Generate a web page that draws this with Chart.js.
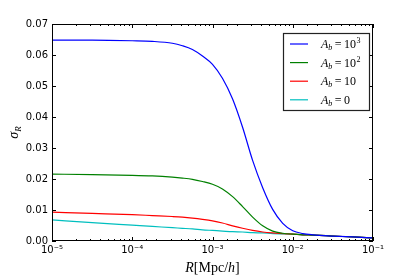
<!DOCTYPE html>
<html><head><meta charset="utf-8">
<script src="https://cdn.jsdelivr.net/npm/chart.js@4/dist/chart.umd.min.js"></script>
<style>html,body{margin:0;padding:0;background:#fff;}#wrap{width:415px;height:277px;}</style>
</head><body><div id="wrap"><canvas id="c" width="415" height="277"></canvas></div>
<script>
// R [Mpc/h] sample points
const radii = [1e-5, 3.16e-5, 1e-4, 1.78e-4, 3.16e-4, 4.22e-4, 5.62e-4, 7.5e-4, 1e-3, 1.33e-3, 1.78e-3, 2.37e-3, 3.16e-3, 4.22e-3, 5.62e-3, 7.5e-3, 1e-2, 1.33e-2, 1.78e-2, 3.16e-2, 5.62e-2, 1e-1];
const sigmaAb1000 = [0.0648, 0.0648, 0.0646, 0.0644, 0.0638, 0.0630, 0.0618, 0.0597, 0.0570, 0.0525, 0.0458, 0.0367, 0.0260, 0.0172, 0.0102, 0.0057, 0.0033, 0.0024, 0.0020, 0.0016, 0.0013, 0.0010];
const sigmaAb100  = [0.0216, 0.0214, 0.0212, 0.0210, 0.0206, 0.0203, 0.0199, 0.0192, 0.0183, 0.0168, 0.0143, 0.0111, 0.0077, 0.0049, 0.0032, 0.0025, 0.0022, 0.0020, 0.0019, 0.0016, 0.0013, 0.0010];
const sigmaAb10   = [0.0093, 0.0089, 0.0085, 0.0082, 0.0079, 0.0077, 0.0074, 0.0070, 0.0065, 0.0058, 0.0049, 0.0041, 0.0034, 0.0029, 0.0026, 0.0024, 0.0022, 0.0020, 0.0019, 0.0016, 0.0013, 0.0010];
const sigmaAb0    = [0.0068, 0.0059, 0.0051, 0.0047, 0.0043, 0.0041, 0.0039, 0.0036, 0.0034, 0.0032, 0.0030, 0.0029, 0.0027, 0.0026, 0.0024, 0.0023, 0.0022, 0.0020, 0.0019, 0.0016, 0.0013, 0.0010];
const legendBase = ['10', '10', '10', '0'];
const legendExp = ['3', '2', '', ''];
const seriesColors = ['#0000ff', '#008000', '#ff0000', '#00bfbf'];
const yTickValues = [0, 0.01, 0.02, 0.03, 0.04, 0.05, 0.06, 0.07];

const SUP = {'-':'\u207B','0':'\u2070','1':'\u00B9','2':'\u00B2','3':'\u00B3','4':'\u2074','5':'\u2075','6':'\u2076','7':'\u2077','8':'\u2078','9':'\u2079'};
function isDecade(v){ const l = Math.log10(v); return Math.abs(l - Math.round(l)) < 1e-6; }

function toPts(arr){ return radii.map((r,i)=>({x:r, y:arr[i]})); }
const allSeries = [sigmaAb1000, sigmaAb100, sigmaAb10, sigmaAb0];

const framePlugin = {
  id: 'frame',
  afterDraw(chart){
    const {ctx, chartArea:a, scales:{x, y}} = chart;
    ctx.save();
    ctx.strokeStyle = '#000'; ctx.lineWidth = 1;
    ctx.beginPath();
    x.ticks.forEach(t=>{
      const px = Math.round(x.getPixelForValue(t.value)) + 0.5;
      const L = isDecade(t.value) ? 4 : 2;
      ctx.moveTo(px, a.bottom); ctx.lineTo(px, a.bottom - L);
      ctx.moveTo(px, a.top); ctx.lineTo(px, a.top + L);
    });
    y.ticks.forEach(t=>{
      const py = Math.round(y.getPixelForValue(t.value)) + 0.5;
      ctx.moveTo(a.left, py); ctx.lineTo(a.left + 4, py);
      ctx.moveTo(a.right, py); ctx.lineTo(a.right - 4, py);
    });
    ctx.stroke();
    ctx.strokeRect(a.left + 0.5, a.top + 0.5, a.right - a.left - 1, a.bottom - a.top - 1);

    // legend
    const lx = a.right - 90, ly = a.top + 9, lw = 86, lh = 77;
    ctx.fillStyle = '#fff';
    ctx.fillRect(lx, ly, lw, lh);
    ctx.lineWidth = 1.2; ctx.strokeStyle = '#222';
    ctx.strokeRect(lx + 0.5, ly + 0.5, lw, lh);
    chart.data.datasets.forEach((ds, i)=>{
      const ry = ly + 11 + i * 18.6;
      ctx.strokeStyle = ds.borderColor; ctx.lineWidth = 1.2;
      ctx.beginPath(); ctx.moveTo(lx + 7, ry); ctx.lineTo(lx + 25, ry); ctx.stroke();
      let tx = lx + 38; const base = ry + 4;
      ctx.fillStyle = '#000'; ctx.textBaseline = 'alphabetic'; ctx.textAlign = 'left';
      ctx.font = 'italic 12px "Liberation Serif"';
      ctx.fillText('A', tx, base); tx += ctx.measureText('A').width;
      ctx.font = 'italic 8px "Liberation Serif"';
      ctx.fillText('b', tx, base + 2); tx += ctx.measureText('b').width + 2.5;
      ctx.font = '12px "Liberation Serif"';
      ctx.fillText('=', tx, base); tx += ctx.measureText('=').width + 2.5;
      ctx.fillText(legendBase[i], tx, base); tx += ctx.measureText(legendBase[i]).width;
      if (legendExp[i]) { ctx.font = '8px "Liberation Serif"'; ctx.fillText(legendExp[i], tx + 0.5, base - 5); }
    });

    // x label
    ctx.fillStyle = '#000';
    const parts = [['R','italic '],['[Mpc/',''],['h','italic '],[']','']];
    let total = 0;
    parts.forEach(p=>{ ctx.font = p[1] + '14px "Liberation Serif"'; total += ctx.measureText(p[0]).width; });
    let xx = (a.left + a.right)/2 - total/2;
    parts.forEach(p=>{ ctx.font = p[1] + '14px "Liberation Serif"'; ctx.fillText(p[0], xx, 272); xx += ctx.measureText(p[0]).width; });

    // y label
    ctx.translate(18, (a.top + a.bottom)/2);
    ctx.rotate(-Math.PI/2);
    ctx.font = 'italic 14px "Liberation Serif"';
    const sw = ctx.measureText('\u03C3').width;
    ctx.font = 'italic 9px "Liberation Serif"';
    const rw = ctx.measureText('R').width;
    let sx = -(sw + rw)/2;
    ctx.font = 'italic 14px "Liberation Serif"';
    ctx.fillText('\u03C3', sx, 0);
    ctx.font = 'italic 9px "Liberation Serif"';
    ctx.fillText('R', sx + sw, 3);
    ctx.restore();
  }
};

new Chart(document.getElementById('c'), {
  type: 'line',
  data: {
    datasets: allSeries.map((s, i)=>({
      label: 'A_b = ' + legendBase[i] + (legendExp[i] ? '^' + legendExp[i] : ''),
      data: toPts(s),
      borderColor: seriesColors[i],
      borderWidth: 1.2,
      pointRadius: 0,
      fill: false,
      cubicInterpolationMode: 'monotone'
    }))
  },
  options: {
    responsive: false,
    animation: false,
    devicePixelRatio: 1,
    layout: { padding: { left: 0, right: 42, top: 24, bottom: 0 } },
    plugins: { legend: { display: false }, tooltip: { enabled: false } },
    scales: {
      x: {
        type: 'logarithmic', min: 1e-5, max: 1e-1,
        grid: { display: false, drawTicks: false },
        border: { display: false },
        ticks: {
          autoSkip: false, maxRotation: 0, padding: 3,
          color: '#000', font: { family: 'DejaVu Sans', size: 10 },
          callback: (v)=> isDecade(v) ? '10' + String(Math.round(Math.log10(v))).split('').map(c=>SUP[c]).join('') : ''
        },
        afterFit: (s)=>{ s.height = 36; }
      },
      y: {
        min: 0, max: 0.07,
        grid: { display: false, drawTicks: false },
        border: { display: false },
        ticks: {
          stepSize: 0.01, padding: 4,
          color: '#000', font: { family: 'DejaVu Sans', size: 10 },
          callback: (v)=> Number(v).toFixed(2)
        },
        afterFit: (s)=>{ s.width = 52; }
      }
    }
  },
  plugins: [framePlugin]
});
</script></body></html>
